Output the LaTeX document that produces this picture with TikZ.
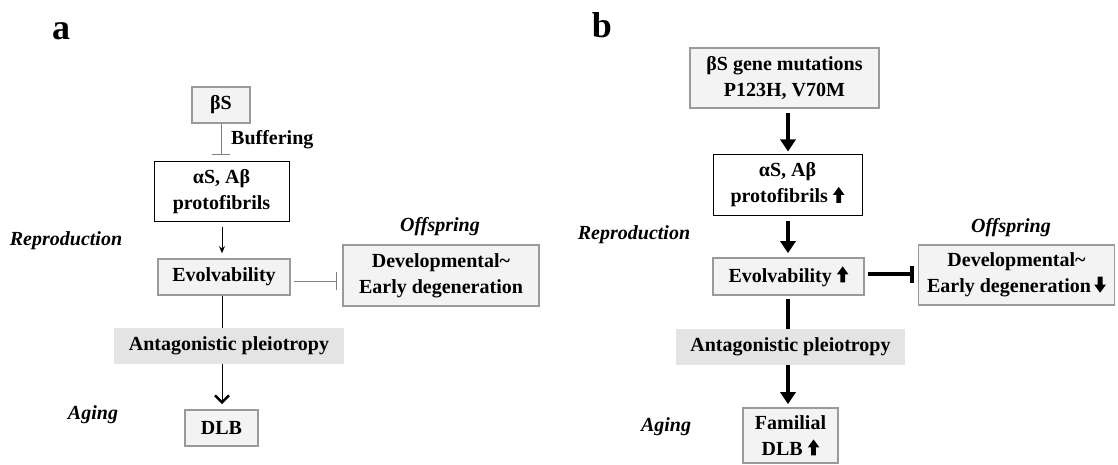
\documentclass[tikz,border=0pt]{standalone}
\usepackage{fontspec}
\setmainfont{Liberation Serif}
\usetikzlibrary{arrows.meta}
\definecolor{boxgray}{HTML}{9A9A9A}
\definecolor{boxfill}{HTML}{F3F3F3}
\definecolor{antfill}{HTML}{E4E4E4}
\definecolor{linegray}{HTML}{808080}
\newcommand{\uparr}{\tikz[baseline=0pt,x=1pt,y=1pt]\fill (-2.4,0)--(2.4,0)--(2.4,8)--(5.8,8)--(0,16)--(-5.8,8)--(-2.4,8)--cycle;}
\newcommand{\downarr}{\tikz[baseline=0pt,x=1pt,y=1pt]\fill (-2.4,16)--(2.4,16)--(2.4,8)--(5.8,8)--(0,0)--(-5.8,8)--(-2.4,8)--cycle;}
\tikzset{
  txt/.style={font=\fontsize{20}{26}\selectfont\bfseries, align=center, inner sep=0pt},
  graybox/.style={txt, draw=boxgray, line width=1.6pt, fill=boxfill},
  blackbox/.style={txt, draw=black, line width=1pt, fill=white},
  antbox/.style={txt, fill=antfill},
  lab/.style={font=\fontsize{20}{24}\selectfont\bfseries\itshape, inner sep=0pt},
  panel/.style={font=\fontsize{36}{40}\selectfont\bfseries, inner sep=0pt},
  thinarr/.style={draw=black, line width=0.9pt, -{Stealth[length=7pt,width=6pt]}},
  inhibA/.style={draw=linegray, line width=1pt, -{Bar[width=18pt,line width=1.2pt]}},
  thickarr/.style={draw=black, line width=3.5pt, -{Triangle[length=12pt,width=15pt]}},
  inhibB/.style={draw=black, line width=3.5pt, -{Bar[width=17pt,line width=3.5pt]}},
}
\begin{document}
\begin{tikzpicture}[x=1pt,y=-1pt]
\useasboundingbox (0,0) rectangle (1118,465);
% ---- panel a ----
\node[panel] (pa) at (61,31) {a};
\node[graybox, minimum width=58pt, minimum height=36pt] (bS) at (221,105) {βS};
\node[blackbox, minimum width=135pt, minimum height=59pt] (aS) at (221.5,191.5) {αS, Aβ\\protofibrils};
\node[graybox, minimum width=132pt, minimum height=36pt] (evo) at (224,277) {Evolvability};
\node[graybox, minimum width=196pt, minimum height=61pt] (dev) at (441,275.5) {Developmental\textasciitilde\\Early degeneration};
\node[antbox, minimum width=230pt, minimum height=36pt] (ant) at (229,346) {Antagonistic pleiotropy};
\node[graybox, minimum width=73pt, minimum height=36pt] (dlb) at (221.5,428) {DLB};
\node[txt, anchor=west] (buf) at (231,140) {Buffering};
\node[lab] (repa) at (66,241) {Reproduction};
\node[lab] (offa) at (440,227) {Offspring};
\node[lab] (aga) at (93,415) {Aging};
\draw[inhibA, shorten >=6pt] (bS.south -| 221,0) -- (bS.south |- aS.north);
\draw[thinarr, shorten <=5pt, shorten >=5pt] (aS.south -| 222,0) -- (222,0 |- evo.north);
\draw[inhibA, shorten <=3pt, shorten >=5pt] (evo.east |- 0,281) -- (dev.west |- 0,281);
\draw[draw=black, line width=0.9pt] (222,0 |- evo.south) -- (222,0 |- ant.north);
\draw[draw=black, line width=1pt, -{Straight Barb[length=7pt,width=14pt,line width=2.5pt]}, shorten >=5pt] (222,0 |- ant.south) -- (222,0 |- dlb.north);
% ---- panel b ----
\node[panel] (pb) at (602,25) {b};
\node[graybox, minimum width=189pt, minimum height=60pt] (gene) at (784.5,78) {βS gene mutations\\P123H, V70M};
\node[blackbox, minimum width=149pt, minimum height=60pt] (aSb) at (787.5,185) {αS, Aβ\\protofibrils \uparr};
\node[graybox, minimum width=151pt, minimum height=37pt] (evob) at (788.5,276.5) {Evolvability \uparr};
\node[graybox, minimum width=196pt, minimum height=60pt] (devb) at (1016.5,275) {Developmental\textasciitilde\\Early degeneration\,\downarr};
\node[antbox, minimum width=229pt, minimum height=36pt] (antb) at (790.5,347) {Antagonistic pleiotropy};
\node[graybox, minimum width=95pt, minimum height=55pt] (dlbb) at (790.5,435.5) {Familial\\DLB \uparr};
\node[lab] (repb) at (634,235) {Reproduction};
\node[lab] (offb) at (1011,228) {Offspring};
\node[lab] (agb) at (666,427) {Aging};
\draw[thickarr, shorten <=4pt, shorten >=3pt] (788,0 |- gene.south) -- (788,0 |- aSb.north);
\draw[thickarr, shorten <=5pt, shorten >=4pt] (788,0 |- aSb.south) -- (788,0 |- evob.north);
\draw[inhibB, shorten <=3pt, shorten >=4pt] (evob.east |- 0,274) -- (devb.west |- 0,274);
\draw[draw=black, line width=3.5pt, shorten <=3pt] (788,0 |- evob.south) -- (788,0 |- antb.north);
\draw[thickarr, shorten >=3pt] (788,0 |- antb.south) -- (788,0 |- dlbb.north);
\end{tikzpicture}
\end{document}
